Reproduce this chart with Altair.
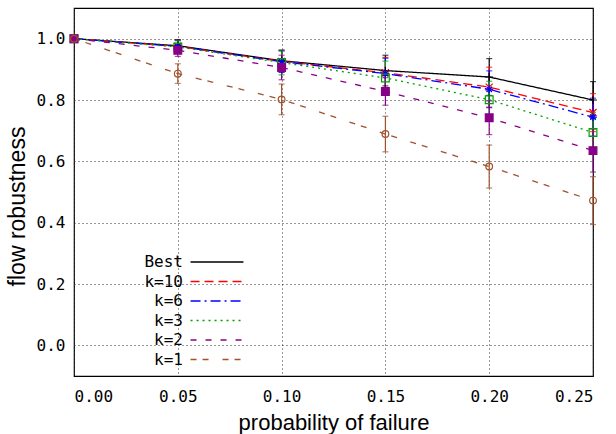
import altair as alt
import pandas as pd

# ---- data ----
probs = [0.00, 0.05, 0.10, 0.15, 0.20, 0.25]
series_names = ["Best", "k=10", "k=6", "k=3", "k=2", "k=1"]

best = [1.000, 0.977, 0.928, 0.896, 0.875, 0.800]
best_err = [0.0, 0.020, 0.035, 0.050, 0.060, 0.060]
k10 = [1.000, 0.975, 0.926, 0.889, 0.842, 0.759]
k10_err = [0.0, 0.020, 0.035, 0.050, 0.065, 0.062]
k6 = [1.000, 0.975, 0.925, 0.886, 0.835, 0.744]
k6_err = [0.0, 0.020, 0.035, 0.050, 0.060, 0.062]
k3 = [1.000, 0.973, 0.922, 0.872, 0.801, 0.694]
k3_err = [0.0, 0.020, 0.040, 0.055, 0.060, 0.065]
k2 = [1.000, 0.962, 0.906, 0.828, 0.742, 0.635]
k2_err = [0.0, 0.020, 0.040, 0.045, 0.055, 0.070]
k1 = [1.000, 0.886, 0.802, 0.689, 0.583, 0.472]
k1_err = [0.0, 0.032, 0.050, 0.058, 0.070, 0.078]

x_ticks = [0.00, 0.05, 0.10, 0.15, 0.20, 0.25]
y_ticks = [0.0, 0.2, 0.4, 0.6, 0.8, 1.0]

values = [best, k10, k6, k3, k2, k1]
errors = [best_err, k10_err, k6_err, k3_err, k2_err, k1_err]

rows = []
for i, (name, vals, errs) in enumerate(zip(series_names, values, errors)):
    for p, v, e in zip(probs, vals, errs):
        rows.append({"series": name, "mk": name, "order": i, "p": p, "v": v,
                     "lo": v - e, "hi": v + e})
df = pd.DataFrame(rows)

colors = ["#000000", "#ff0000", "#0000ff", "#00a000", "#880088", "#a0522d"]
dashes = [[1, 0], [9, 5], [10, 4, 2, 4], [2, 4], [6, 9], [6, 6, 6, 14]]
shapes = ["M-1,0L1,0M0,-1L0,1",
          "M-1,-1L1,1M-1,1L1,-1",
          "M-1,0L1,0M0,-1L0,1M-0.7,-0.7L0.7,0.7M-0.7,0.7L0.7,-0.7",
          "square", "square", "circle"]
filled_flags = [False, False, False, False, True, False]
marker_sizes = [60, 50, 60, 60, 60, 45]

xscale = alt.Scale(domain=[0, 0.25], nice=False)
yscale = alt.Scale(domain=[-0.1, 1.1], nice=False, zero=False)

X = alt.X("p:Q", scale=xscale,
          axis=alt.Axis(values=x_ticks, format=".2f", title="probability of failure",
                        titleX=259.5, titleY=46, titleBaseline="middle", titleFontSize=22,
                        labelPadding=12))
Y = alt.Y("v:Q", scale=yscale,
          axis=alt.Axis(values=y_ticks, format=".1f", title="flow robustness",
                        titleX=-57, titleY=198, titleBaseline="middle", titleFontSize=23,
                        labelPadding=9))

stroke_enc = alt.Stroke("mk:N", scale=alt.Scale(domain=series_names, range=colors), legend=None)

leg = alt.Legend(title=None, labelOffset={"expr": "-42"}, labelAlign="right",
                 symbolType="M-5,0L5,0", symbolSize=112, rowPadding=3.5)

lines = alt.Chart(df).mark_line(strokeWidth=1.3).encode(
    x=X, y=Y,
    color=alt.Color("series:N", scale=alt.Scale(domain=series_names, range=colors),
                    sort=series_names, legend=leg),
    strokeDash=alt.StrokeDash("series:N", scale=alt.Scale(domain=series_names, range=dashes),
                              sort=series_names, legend=leg),
    order=alt.Order("order:Q"),
)

err_rules = alt.Chart(df).mark_rule(strokeWidth=1.2).encode(
    x="p:Q", y="lo:Q", y2="hi:Q", stroke=stroke_enc,
)

caps_lo = alt.Chart(df).mark_point(shape="M-1,0L1,0", size=36, strokeWidth=1.2, filled=False).encode(
    x="p:Q", y="lo:Q", stroke=stroke_enc,
)
caps_hi = alt.Chart(df).mark_point(shape="M-1,0L1,0", size=36, strokeWidth=1.2, filled=False).encode(
    x="p:Q", y="hi:Q", stroke=stroke_enc,
)

marker_layers = []
for name, shp, fl, sz, col in zip(series_names, shapes, filled_flags, marker_sizes, colors):
    if fl:
        mk = alt.Chart(df).transform_filter(alt.datum.mk == name).mark_point(
            shape=shp, size=sz, strokeWidth=1.2, fill=col, fillOpacity=1, opacity=1)
    else:
        mk = alt.Chart(df).transform_filter(alt.datum.mk == name).mark_point(
            shape=shp, size=sz, strokeWidth=1.2, filled=False, opacity=1)
    marker_layers.append(mk.encode(x="p:Q", y="v:Q", stroke=stroke_enc))

chart = alt.layer(lines, err_rules, caps_lo, caps_hi, *marker_layers).properties(
    width=519, height=368,
    autosize=alt.AutoSizeParams(type="none"),
    padding={"left": 74, "top": 8, "right": 23, "bottom": 58},
).configure_view(
    stroke="black", strokeWidth=1.2
).configure_axis(
    labelFont="DejaVu Sans Mono", labelFontSize=16, labelColor="black",
    titleFont="Liberation Sans", titleFontWeight="normal", titleColor="black",
    tickSize=0, domain=False,
    grid=True, gridColor="#333333", gridDash=[1, 3], gridWidth=1, gridOpacity=1,
).configure_legend(
    orient="none", legendX=135, legendY=246,
    symbolStrokeWidth=1.3,
    labelFont="DejaVu Sans Mono", labelFontSize=16, labelColor="black",
    padding=0,
)

chart.save("out.html", embed_options={"renderer": "svg", "actions": False})
